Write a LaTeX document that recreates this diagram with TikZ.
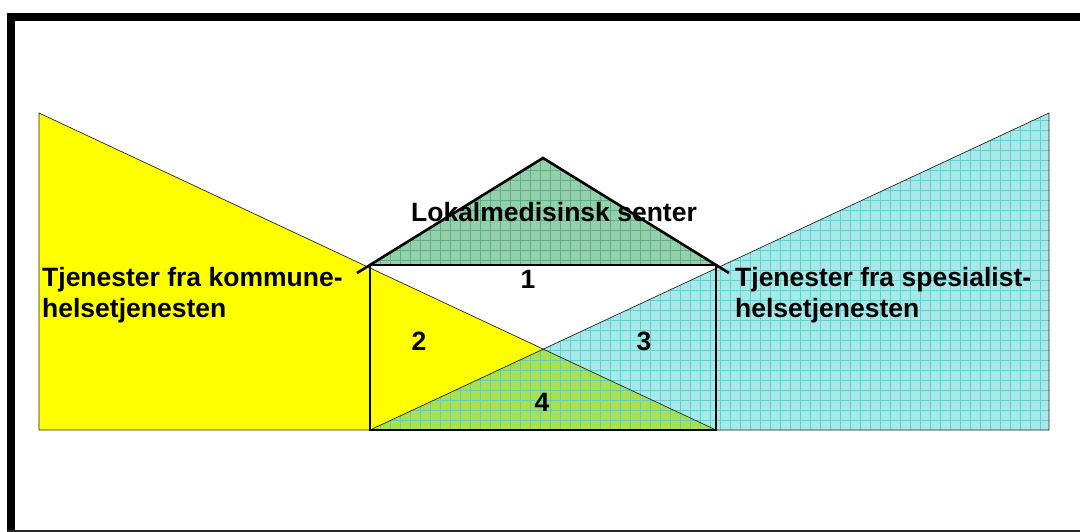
\documentclass[tikz,border=0pt]{standalone}
\usepackage{fontspec}
\setmainfont{Liberation Sans}
\begin{document}
\begin{tikzpicture}[x=1pt,y=-1pt,
  thinedge/.style={draw=black!85,line width=0.7pt},
  thickedge/.style={draw=black,line width=2.6pt},
  gridline/.style={line width=0.6pt},
  lbl/.style={font=\fontsize{26.5}{30}\selectfont\bfseries,inner sep=0pt}]
\definecolor{yel}{HTML}{FFFF00}
\definecolor{cyanbase}{HTML}{A8E8E8}
\definecolor{cyangrid}{HTML}{62D0D0}
\definecolor{roofbase}{HTML}{94D0AC}
\definecolor{roofgrid}{HTML}{5DB085}
\definecolor{ovbase}{HTML}{A8E050}
\definecolor{ovgrid}{HTML}{66CCB8}
\useasboundingbox (0,0) rectangle (1080,532);
\fill[white] (0,0) rectangle (1080,532);
% named corner points
\coordinate (yTop) at (39,113);
\coordinate (yBot) at (39,430);
\coordinate (cTop) at (1049,113);
\coordinate (cBot) at (1049,430);
\coordinate (rBL) at (370,430);
\coordinate (rBR) at (716,430);
\coordinate (rTL) at (370,265);
\coordinate (rTR) at (716,265);
\coordinate (apex) at (543,158);
\coordinate (cross) at (543,349);
\coordinate (extL) at (357,273);
\coordinate (extR) at (729,273);
% yellow triangle
\fill[yel] (yTop) -- (yBot) -- (rBR) -- cycle;
% cyan triangle
\fill[cyanbase] (cTop) -- (cBot) -- (rBL) -- cycle;
\begin{scope}
\clip (cTop) -- (cBot) -- (rBL) -- cycle;
\foreach \gx in {360,370,...,1060} \draw[cyangrid,gridline] (\gx,100) -- (\gx,440);
\foreach \gy in {100,110,...,440} \draw[cyangrid,gridline] (360,\gy) -- (1060,\gy);
\end{scope}
% overlap
\fill[ovbase] (rBL) -- (rBR) -- (cross) -- cycle;
\begin{scope}
\clip (rBL) -- (rBR) -- (cross) -- cycle;
\foreach \gx in {360,370,...,730} \draw[ovgrid,gridline] (\gx,340) -- (\gx,440);
\foreach \gy in {340,350,...,440} \draw[ovgrid,gridline] (360,\gy) -- (730,\gy);
\end{scope}
% outlines of big triangles
\draw[thinedge] (yTop) -- (yBot) -- (rBR) -- cycle;
\draw[thinedge] (cTop) -- (cBot) -- (rBL) -- cycle;
% roof
\fill[roofbase] (rTL) -- (apex) -- (rTR) -- cycle;
\begin{scope}
\clip (rTL) -- (apex) -- (rTR) -- cycle;
\foreach \gx in {360,370,...,730} \draw[roofgrid,gridline] (\gx,150) -- (\gx,270);
\foreach \gy in {150,160,...,270} \draw[roofgrid,gridline] (360,\gy) -- (730,\gy);
\end{scope}
\draw[thickedge,line join=miter] (extL) -- (apex) -- (extR);
% box
\draw[thickedge] (rTL) rectangle (rBR);
% frame
\draw[line width=8pt] (7,17) -- (1080,17);
\draw[line width=8pt] (11,13) -- (11,532);
\draw[line width=1.2pt,black!85] (7,531) -- (1080,531);
% texts
\node[lbl,anchor=base] (lms) at (554,222) {Lokalmedisinsk senter};
\node[lbl,anchor=base west] (k1) at (42,287) {Tjenester fra kommune-};
\node[lbl,anchor=base west] (k2) at (42,317) {helsetjenesten};
\node[lbl,anchor=base west] (s1) at (735,287) {Tjenester fra spesialist-};
\node[lbl,anchor=base west] (s2) at (735,317) {helsetjenesten};
\node[lbl,anchor=base] (n1) at (528,288) {1};
\node[lbl,anchor=base] (n2) at (419,350) {2};
\node[lbl,anchor=base] (n3) at (644,350) {3};
\node[lbl,anchor=base] (n4) at (542,411) {4};
\end{tikzpicture}
\end{document}
